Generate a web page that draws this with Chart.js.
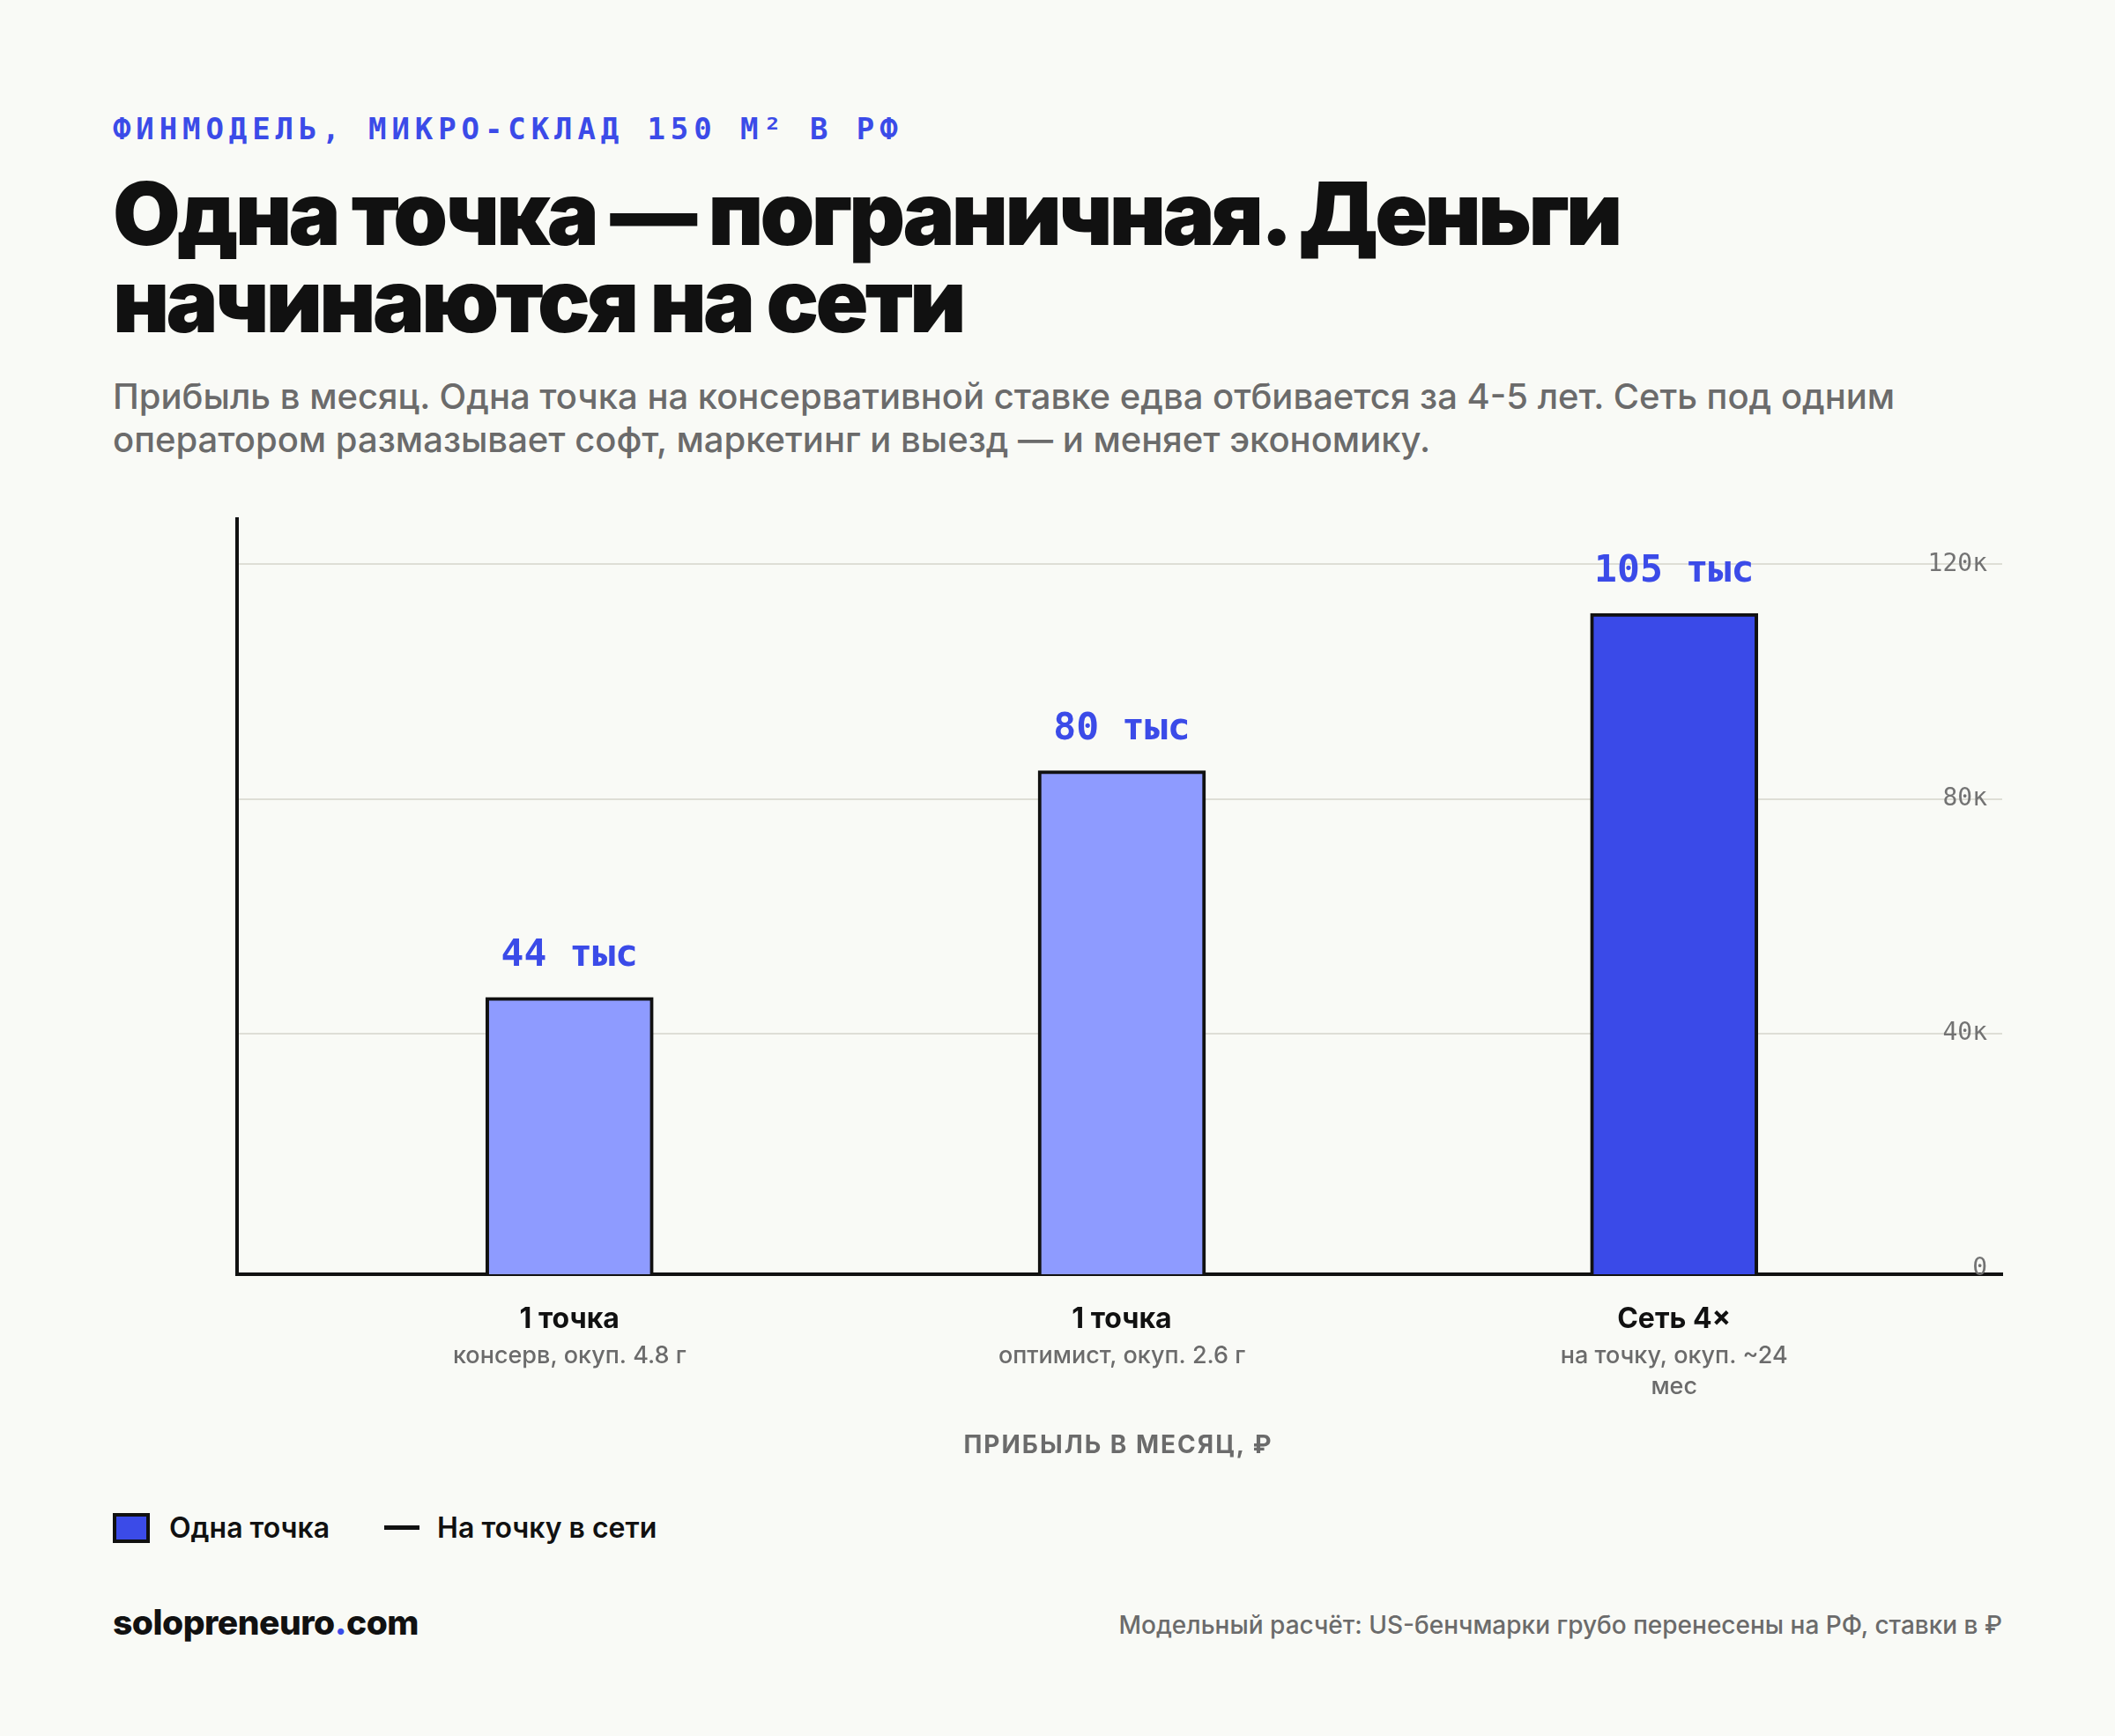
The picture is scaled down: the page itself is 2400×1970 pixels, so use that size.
<!DOCTYPE html>
<html lang="ru">
<head>
<meta charset="utf-8">
<script src="https://cdn.jsdelivr.net/npm/chart.js@4/dist/chart.umd.min.js"></script>
<style>
  html, body { margin: 0; padding: 0; }
  body { width: 2400px; height: 1970px; background: #f9faf6; position: relative; font-family: Inter, "Noto Sans", sans-serif; overflow: hidden; }
  .eyebrow { position: absolute; left: 128px; top: 126px; font-family: "DejaVu Sans Mono", monospace; font-weight: bold; font-size: 34px; letter-spacing: 5.9px; color: #3b4be8; line-height: 40px; }
  h1 { position: absolute; left: 128px; top: 193px; margin: 0; font-family: Inter, sans-serif; font-weight: 900; font-size: 99px; line-height: 99px; letter-spacing: -3.7px; color: #111; }
  .sub { position: absolute; left: 128px; top: 425px; width: 2120px; font-size: 40px; line-height: 49px; font-weight: 500; color: #6b6b6b; }
  #wrap { position: absolute; left: 0; top: 560px; width: 2400px; height: 1130px; }
  .axtitle { position: absolute; left: 0; width: 2538px; top: 1622px; text-align: center; font-size: 28px; font-weight: 700; letter-spacing: 2px; color: #6b6b6b; }
  .legend { position: absolute; left: 128px; top: 1714px; display: flex; align-items: center; font-size: 32px; font-weight: 600; color: #111; }
  .legend .sq { width: 34px; height: 26px; background: #3b4be8; border: 4px solid #111; margin-right: 22px; }
  .legend .ln { width: 40px; height: 5px; background: #111; margin-left: 62px; margin-right: 20px; }
  .foot-l { position: absolute; left: 128px; top: 1817px; font-size: 39px; font-weight: 800; color: #111; letter-spacing: -0.5px; }
  .foot-l span { color: #3b4be8; }
  .foot-r { position: absolute; right: 128px; top: 1827px; font-size: 28px; font-weight: 500; color: #6b6b6b; }
</style>
</head>
<body>
<div class="eyebrow">ФИНМОДЕЛЬ, МИКРО-СКЛАД 150 М² В РФ</div>
<h1>Одна точка — пограничная. Деньги<br>начинаются на сети</h1>
<div class="sub">Прибыль в месяц. Одна точка на консервативной ставке едва отбивается за 4-5 лет. Сеть под одним оператором размазывает софт, маркетинг и выезд — и меняет экономику.</div>
<div id="wrap"><canvas id="chart"></canvas></div>
<div class="axtitle">ПРИБЫЛЬ В МЕСЯЦ, ₽</div>
<div class="legend"><div class="sq"></div>Одна точка<div class="ln"></div>На точку в сети</div>
<div class="foot-l">solopreneuro<span>.</span>com</div>
<div class="foot-r">Модельный расчёт: US-бенчмарки грубо перенесены на РФ, ставки в ₽</div>

<script>
"use strict"

// данные: прибыль в месяц, тыс ₽
const categories = ['1 точка', '1 точка', 'Сеть 4×']
const subLabels = [['консерв, окуп. 4.8 г'], ['оптимист, окуп. 2.6 г'], ['на точку, окуп. ~24', 'мес']]
const profit = [44, 80, 105]
const barColors = ['#8e9bff', '#8e9bff', '#3a4ae8']
const tickValues = [0, 40, 80, 120]

const blue = '#3b4be8'

// подписи значений над столбцами
const valueLabels = {
    id: 'valueLabels',
    afterDatasetsDraw(chart) {
        const ctx = chart.ctx
        const meta = chart.getDatasetMeta(0)
        ctx.save()
        ctx.font = 'bold 43px "DejaVu Sans Mono", monospace'
        ctx.fillStyle = blue
        ctx.textAlign = 'center'
        ctx.textBaseline = 'middle'
        meta.data.forEach((bar, i) => {
            ctx.fillText(profit[i] + ' тыс', bar.x, bar.y - 47)
        })
        ctx.restore()
    }
}

// подписи категорий под осью
const categoryLabels = {
    id: 'categoryLabels',
    afterDraw(chart) {
        const ctx = chart.ctx
        const x = chart.scales.x
        const bottom = chart.chartArea.bottom
        ctx.save()
        ctx.textAlign = 'center'
        ctx.textBaseline = 'middle'
        categories.forEach((name, i) => {
            const px = x.getPixelForValue(i)
            ctx.font = 'bold 32px Inter, sans-serif'
            ctx.fillStyle = '#111'
            ctx.fillText(name, px, bottom + 51)
            ctx.font = '500 27px Inter, sans-serif'
            ctx.fillStyle = '#6b6b6b'
            subLabels[i].forEach((line, j) => {
                ctx.fillText(line, px, bottom + 93 + j * 35)
            })
        })
        ctx.restore()
    }
}

const canvas = document.getElementById('chart')
canvas.width = 2400
canvas.height = 1130

new Chart(canvas, {
    type: 'bar',
    data: {
        datasets: [{
            label: 'Одна точка',
            data: profit.map((v, i) => ({ x: i, y: v })),
            backgroundColor: barColors,
            borderColor: '#111',
            borderWidth: 4,
            barThickness: 190,
            yAxisID: 'y'
        }]
    },
    options: {
        responsive: false,
        animation: false,
        events: [],
        layout: { padding: { left: 269, right: 128, top: 29, bottom: 244 } },
        plugins: { legend: { display: false }, tooltip: { enabled: false } },
        scales: {
            x: {
                type: 'linear',
                offset: false,
                min: -0.602,
                max: 2.594,
                ticks: { display: false },
                grid: { display: false, drawTicks: false },
                border: { display: true, color: '#111', width: 4 }
            },
            y: {
                position: 'left',
                min: 0,
                max: 120,
                ticks: { display: false },
                grid: { display: false, drawTicks: false },
                border: { display: true, color: '#111', width: 4 }
            },
            y2: {
                position: 'right',
                min: -1,
                max: 127.7,
                afterBuildTicks(axis) {
                    axis.ticks = tickValues.map(v => ({ value: v }))
                },
                ticks: {
                    mirror: true,
                    padding: -17,
                    color: '#737373',
                    font: { family: '"DejaVu Sans Mono", monospace', size: 28 },
                    callback: v => v === 0 ? '0' : v + 'к'
                },
                grid: {
                    drawTicks: false,
                    lineWidth: 2,
                    color: c => c.tick && c.tick.value === 0 ? 'rgba(0,0,0,0)' : '#deded6'
                },
                border: { display: false }
            }
        }
    },
    plugins: [valueLabels, categoryLabels]
})
</script>
</body>
</html>
